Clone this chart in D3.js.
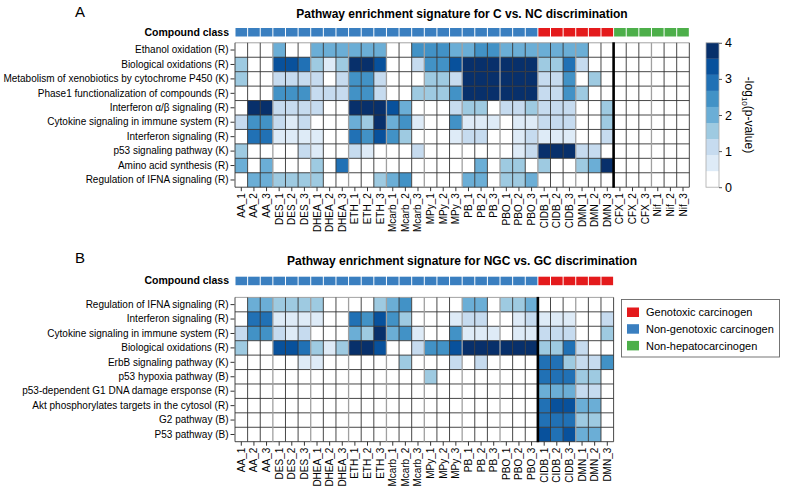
<!DOCTYPE html>
<html>
<head>
<meta charset="utf-8">
<script src="https://cdn.jsdelivr.net/npm/d3@7"></script>
<style>
  body { margin: 0; background: #fff; }
  svg { font-family: Arial, "Liberation Sans", sans-serif; }
</style>
</head>
<body>
<svg id="chart" width="787" height="490"></svg>
<script>
"use strict";

const samplesA = [
  "AA_1", "AA_2", "AA_3", "DES_1", "DES_2", "DES_3", "DHEA_1", "DHEA_2", "DHEA_3",
  "ETH_1", "ETH_2", "ETH_3", "Mcarb_1", "Mcarb_2", "Mcarb_3", "MPy_1", "MPy_2", "MPy_3",
  "PB_1", "PB_2", "PB_3", "PBO_1", "PBO_2", "PBO_3", "CIDB_1", "CIDB_2", "CIDB_3",
  "DMN_1", "DMN_2", "DMN_3", "CFX_1", "CFX_2", "CFX_3", "Nif_1", "Nif_2", "Nif_3",
];
const samplesB = samplesA.slice(0, 30);

const compoundClass = {
  AA: "Non-genotoxic carcinogen", DES: "Non-genotoxic carcinogen", DHEA: "Non-genotoxic carcinogen",
  ETH: "Non-genotoxic carcinogen", Mcarb: "Non-genotoxic carcinogen", MPy: "Non-genotoxic carcinogen",
  PB: "Non-genotoxic carcinogen", PBO: "Non-genotoxic carcinogen",
  CIDB: "Genotoxic carcinogen", DMN: "Genotoxic carcinogen",
  CFX: "Non-hepatocarcinogen", Nif: "Non-hepatocarcinogen",
};
const classNames = ["Genotoxic carcinogen", "Non-genotoxic carcinogen", "Non-hepatocarcinogen"];
const classColors = ["#e41a1c", "#3a7fc0", "#4daf4a"];

// -log10(p-value) per pathway (rows) and sample (columns)
const pathwaysA = [
  "Ethanol oxidation (R)",
  "Biological oxidations (R)",
  "Metabolism of xenobiotics by cytochrome P450 (K)",
  "Phase1 functionalization of compounds (R)",
  "Interferon \u03b1/\u03b2 signaling (R)",
  "Cytokine signaling in immune system (R)",
  "Interferon signaling (R)",
  "p53 signaling pathway (K)",
  "Amino acid synthesis (R)",
  "Regulation of IFNA signaling (R)",
];
const valuesA = [
  [0, 0, 0, 2, 0, 0, 2, 2, 2, 2, 2, 2, 0, 0, 2.4, 2.4, 2.4, 2, 2, 2.4, 2.4, 2, 2, 2, 2, 2, 2, 2, 0, 0, 0, 0, 0, 0, 0, 0],
  [1.6, 0, 0, 3.3, 3.3, 2.9, 1.6, 0.7, 1.6, 4, 4, 3.3, 0, 0, 1.1, 2.4, 2.4, 3.3, 4, 4, 4, 4, 4, 4, 1.6, 1.6, 2.9, 1.1, 0, 0, 0, 0, 0, 0, 0, 0],
  [1.6, 0, 0, 1.1, 1.1, 1.1, 1.1, 0, 1.1, 2.4, 2.4, 1.1, 0, 0, 0, 1.6, 1.6, 1.1, 4, 4, 4, 4, 4, 4, 1.1, 1.1, 2.4, 0, 1.6, 0, 0, 0, 0, 0, 0, 0],
  [0, 0, 0, 2.4, 2.4, 2.4, 1.1, 1.1, 1.1, 2.4, 2.4, 1.1, 0, 0, 1.6, 1.6, 1.6, 2.4, 4, 4, 4, 4, 4, 4, 1.1, 1.1, 2.4, 1.6, 0, 0, 0, 0, 0, 0, 0, 0],
  [0, 4, 4, 1.1, 1.1, 1.1, 1.1, 0, 0, 4, 4, 4, 3.3, 2, 0, 0, 0, 1.1, 1.6, 1.6, 0, 1.1, 1.1, 1.6, 1.1, 1.1, 1.1, 0, 0, 1.6, 0, 0, 0, 0, 0, 0],
  [1.1, 2.4, 2.4, 1.1, 0.7, 1.1, 0, 0, 0, 2, 1.6, 4, 2, 2.4, 0.7, 0, 0, 2.4, 0.7, 0.7, 0.7, 0, 0.7, 0.7, 1.1, 1.1, 1.1, 0, 0, 1.6, 0, 0, 0, 0, 0, 0],
  [0, 2.9, 2.9, 0.7, 0.7, 0.7, 0.7, 0, 0, 2.9, 2.4, 3.3, 2.4, 1.6, 0, 0, 0, 0.7, 1.1, 1.1, 0, 0, 0.7, 1.1, 0.7, 0.7, 0.7, 0, 0, 1.1, 0, 0, 0, 0, 0, 0],
  [1.6, 0, 0, 0, 0, 1.1, 0.7, 0, 0, 1.1, 0.7, 0, 0, 0, 1.1, 0, 0, 0, 0, 0, 0, 0, 0.7, 1.1, 4, 4, 4, 1.1, 1.1, 0, 0, 0, 0, 0, 0, 0],
  [2, 0, 2, 0, 0, 0, 1.6, 0, 2.9, 0, 0, 0, 0, 0, 0, 0, 0, 0, 0, 2, 0, 1.6, 1.6, 0, 1.6, 0, 0, 1.6, 2, 4, 0, 0, 0, 0, 0, 0],
  [0, 2, 2, 1.6, 1.6, 1.6, 1.6, 0, 0, 0, 0, 1.6, 2, 2.4, 0, 0, 0, 0, 2, 2, 0, 1.6, 1.6, 2, 0, 0, 0, 0, 0, 0, 0, 0, 0, 0, 0, 0],
];

const pathwaysB = [
  "Regulation of IFNA signaling (R)",
  "Interferon signaling (R)",
  "Cytokine signaling in immune system (R)",
  "Biological oxidations (R)",
  "ErbB signaling pathway (K)",
  "p53 hypoxia pathway (B)",
  "p53-dependent G1 DNA damage ersponse (R)",
  "Akt phosphorylates targets in the cytosol (R)",
  "G2 pathway (B)",
  "P53 pathway (B)",
];
const valuesB = [
  [0, 2, 2, 1.6, 1.6, 1.6, 1.6, 0, 0, 0, 0, 1.6, 2, 2.4, 0, 0, 0, 0, 2, 2, 0, 1.6, 1.6, 2, 0, 0, 0, 0, 0, 0],
  [0, 2.9, 2.9, 0.7, 0.7, 0.7, 0.7, 0, 0, 2.9, 2.4, 3.3, 2.4, 1.6, 0, 0, 0, 0.7, 1.1, 1.1, 0, 0, 0.7, 1.1, 0.7, 0.7, 0.7, 0, 0, 1.1],
  [1.1, 2.4, 2.4, 1.1, 0.7, 1.1, 0, 0, 0, 2, 1.6, 4, 2, 2.4, 0.7, 0, 0, 2.4, 0.7, 0.7, 0.7, 0, 0.7, 0.7, 1.1, 1.1, 1.1, 0, 0, 1.6],
  [1.6, 0, 0, 3.3, 3.3, 2.9, 1.6, 0.7, 1.6, 4, 4, 3.3, 0, 0, 1.1, 2.4, 2.4, 3.3, 4, 4, 4, 4, 4, 4, 1.6, 1.6, 2.9, 1.1, 0, 0],
  [0, 0, 0, 0, 0, 0.7, 0.7, 0, 0, 0, 0, 0, 0, 1.6, 0, 0, 0, 1.1, 0, 1.1, 0, 0, 0, 0, 2.9, 2.9, 1.6, 1.1, 1.1, 2.4],
  [0, 0, 0, 0, 0, 0, 0, 0, 0, 0, 0, 0, 0, 0, 0, 1.6, 0, 0, 0, 0, 0, 0, 0, 0, 2.9, 2.9, 2.9, 1.6, 1.6, 0],
  [0, 0, 0, 0, 0, 0, 0, 0, 0, 0, 0, 0, 0, 0, 0, 0, 0, 0, 0, 0, 0, 0, 0, 0, 2, 2, 2, 1.1, 1.1, 0],
  [0, 0, 0, 0, 0, 0, 0, 0, 0, 0, 0, 0, 0, 0, 0, 0, 0, 0, 0, 0, 0, 0, 0, 0, 2.9, 3.3, 3.3, 2, 2, 0],
  [0, 0, 0, 0, 0, 0, 0, 0, 0, 0, 0, 0, 0, 0, 0, 0, 0, 0, 0, 0, 0, 0, 0, 0, 2.9, 2.9, 2.9, 1.6, 1.6, 0],
  [0, 0, 0, 0, 0, 0, 0, 0, 0, 0, 0, 0, 0, 0, 0, 0, 0, 0, 0, 0, 0, 0, 0, 0, 3.3, 2.9, 3.3, 2, 2, 0],
];

const blues = ["#ffffff", "#deebf7", "#c6dbef", "#9ecae1", "#6baed6", "#4292c6", "#2171b5", "#08519c", "#08306b"];
const colorbarTicks = [0, 1, 2, 3, 4];

const svg = d3.select("#chart");
const color = d3.scaleQuantize().domain([0, 4]).range(blues);
const classColor = d3.scaleOrdinal().domain(classNames).range(classColors);
const cellW = 12.62;
const heatLeft = 235;

function classOf(sample) {
  return compoundClass[sample.split("_")[0]];
}

function drawPanel(p) {
  const g = svg.append("g");
  const x = d3.scaleBand().domain(p.samples).range([heatLeft, heatLeft + cellW * p.samples.length]);
  const y = d3.scaleBand().domain(p.pathways).range([p.top, p.bottom]);

  g.append("text").attr("x", 75).attr("y", p.letterY)
    .attr("font-size", 15).text(p.letter);
  g.append("text").attr("x", 462).attr("y", p.titleY)
    .attr("text-anchor", "middle").attr("font-size", 12).attr("font-weight", "bold")
    .text(p.title);

  // compound class strip
  g.append("text").attr("x", 229).attr("y", p.barY + 7.5)
    .attr("text-anchor", "end").attr("font-size", 10.5).attr("font-weight", "bold")
    .text("Compound class");
  g.append("g").selectAll("rect").data(p.samples).enter().append("rect")
    .attr("x", (d) => x(d) + 0.5)
    .attr("y", p.barY)
    .attr("width", x.bandwidth() - 1)
    .attr("height", 8.5)
    .attr("fill", (d) => classColor(classOf(d)));

  // cells
  const cells = [];
  p.values.forEach((row, i) => {
    row.forEach((v, j) => cells.push({ pathway: p.pathways[i], sample: p.samples[j], value: v }));
  });
  g.append("g").selectAll("rect").data(cells).enter().append("rect")
    .attr("x", (d) => x(d.sample))
    .attr("y", (d) => y(d.pathway))
    .attr("width", x.bandwidth())
    .attr("height", y.bandwidth())
    .attr("fill", (d) => color(d.value));

  // grid
  const grid = g.append("g");
  const x0 = x.range()[0], x1 = x.range()[1];
  p.pathways.forEach((d, i) => {
    grid.append("line").attr("x1", x0).attr("x2", x1)
      .attr("y1", y(d)).attr("y2", y(d))
      .attr("stroke", i === 0 ? "#999" : "#333").attr("stroke-width", 0.9);
  });
  grid.append("line").attr("x1", x0).attr("x2", x1)
    .attr("y1", p.bottom).attr("y2", p.bottom).attr("stroke", "#333").attr("stroke-width", 0.9);
  for (let j = 0; j <= p.samples.length; j++) {
    const xx = x0 + j * x.bandwidth();
    const group = j > 0 && j < p.samples.length && j % 3 === 0;
    grid.append("line").attr("x1", xx).attr("x2", xx)
      .attr("y1", p.top).attr("y2", p.bottom)
      .attr("stroke", group ? "#a0a0a0" : "#333")
      .attr("stroke-width", group ? 1.3 : 0.9);
  }
  const sx = x(p.samples[p.splitAt]);
  grid.append("line").attr("x1", sx).attr("x2", sx)
    .attr("y1", p.top - 0.5).attr("y2", p.bottom + 0.5)
    .attr("stroke", "#000").attr("stroke-width", 2.6);

  // axes
  const yAxis = g.append("g").attr("transform", `translate(${x0 - 0.5},0)`)
    .call(d3.axisLeft(y).tickSize(4).tickPadding(2));
  yAxis.select(".domain").remove();
  yAxis.selectAll("line").attr("stroke", "#333");
  yAxis.selectAll("text").attr("font-size", 10).attr("fill", "#000")
    .attr("font-family", "Arial, 'Liberation Sans', sans-serif");

  const xAxis = g.append("g").attr("transform", `translate(0,${p.bottom})`)
    .call(d3.axisBottom(x).tickSize(4));
  xAxis.select(".domain").remove();
  xAxis.selectAll("line").attr("stroke", "#333");
  xAxis.selectAll("text")
    .attr("font-size", 10).attr("fill", "#000")
    .attr("font-family", "Arial, 'Liberation Sans', sans-serif")
    .attr("transform", "rotate(-90)")
    .attr("text-anchor", "end")
    .attr("x", -6).attr("y", 0).attr("dy", "0.35em");
}

drawPanel({
  letter: "A", letterY: 17,
  title: "Pathway enrichment signature for C vs. NC discrimination", titleY: 18,
  samples: samplesA, pathways: pathwaysA, values: valuesA,
  barY: 28, top: 42.8, bottom: 187.2, splitAt: 30,
});

drawPanel({
  letter: "B", letterY: 263,
  title: "Pathway enrichment signature for NGC vs. GC discrimination", titleY: 265,
  samples: samplesB, pathways: pathwaysB, values: valuesB,
  barY: 276.7, top: 297.4, bottom: 441.7, splitAt: 24,
});

// colour bar
const cb = svg.append("g");
const cbY = d3.scaleLinear().domain([0, 4]).range([187.2, 42.8]);
const binEdges = [0].concat(color.thresholds(), [4]);
cb.selectAll("rect").data(blues).enter().append("rect")
  .attr("x", 706)
  .attr("width", 13)
  .attr("y", (d, i) => cbY(binEdges[i + 1]))
  .attr("height", (d, i) => cbY(binEdges[i]) - cbY(binEdges[i + 1]))
  .attr("fill", (d) => d);
cb.append("rect").attr("x", 706).attr("y", 42.8).attr("width", 13).attr("height", 144.4)
  .attr("fill", "none").attr("stroke", "#aaa").attr("stroke-width", 0.8);
const cbAxis = cb.append("g").attr("transform", "translate(719,0)")
  .call(d3.axisRight(cbY).tickValues(colorbarTicks).tickFormat(d3.format("d")).tickSize(3));
cbAxis.select(".domain").remove();
cbAxis.selectAll("line").attr("stroke", "#555");
cbAxis.selectAll("text").attr("font-size", 12.5).attr("fill", "#000")
  .attr("font-family", "Arial, 'Liberation Sans', sans-serif");
const cbLabel = cb.append("text")
  .attr("transform", "translate(745,115) rotate(90)")
  .attr("text-anchor", "middle").attr("font-size", 12);
cbLabel.append("tspan").text("-log");
cbLabel.append("tspan").attr("font-size", 8).attr("dy", 3).text("10");
cbLabel.append("tspan").attr("dy", -3).text("(p-value)");

// legend
const legend = svg.append("g");
legend.append("rect").attr("x", 621.5).attr("y", 299.5).attr("width", 158).attr("height", 57.5)
  .attr("fill", "#fff").attr("stroke", "#666").attr("stroke-width", 0.9);
const item = legend.selectAll("g.item").data(classNames).enter().append("g")
  .attr("class", "item")
  .attr("transform", (d, i) => `translate(627,${307.5 + i * 16.7})`);
item.append("rect").attr("width", 12).attr("height", 9.5).attr("fill", (d) => classColor(d));
item.append("text").attr("x", 19).attr("y", 4.8).attr("dy", "0.35em")
  .attr("font-size", 11).text((d) => d);
</script>
</body>
</html>
